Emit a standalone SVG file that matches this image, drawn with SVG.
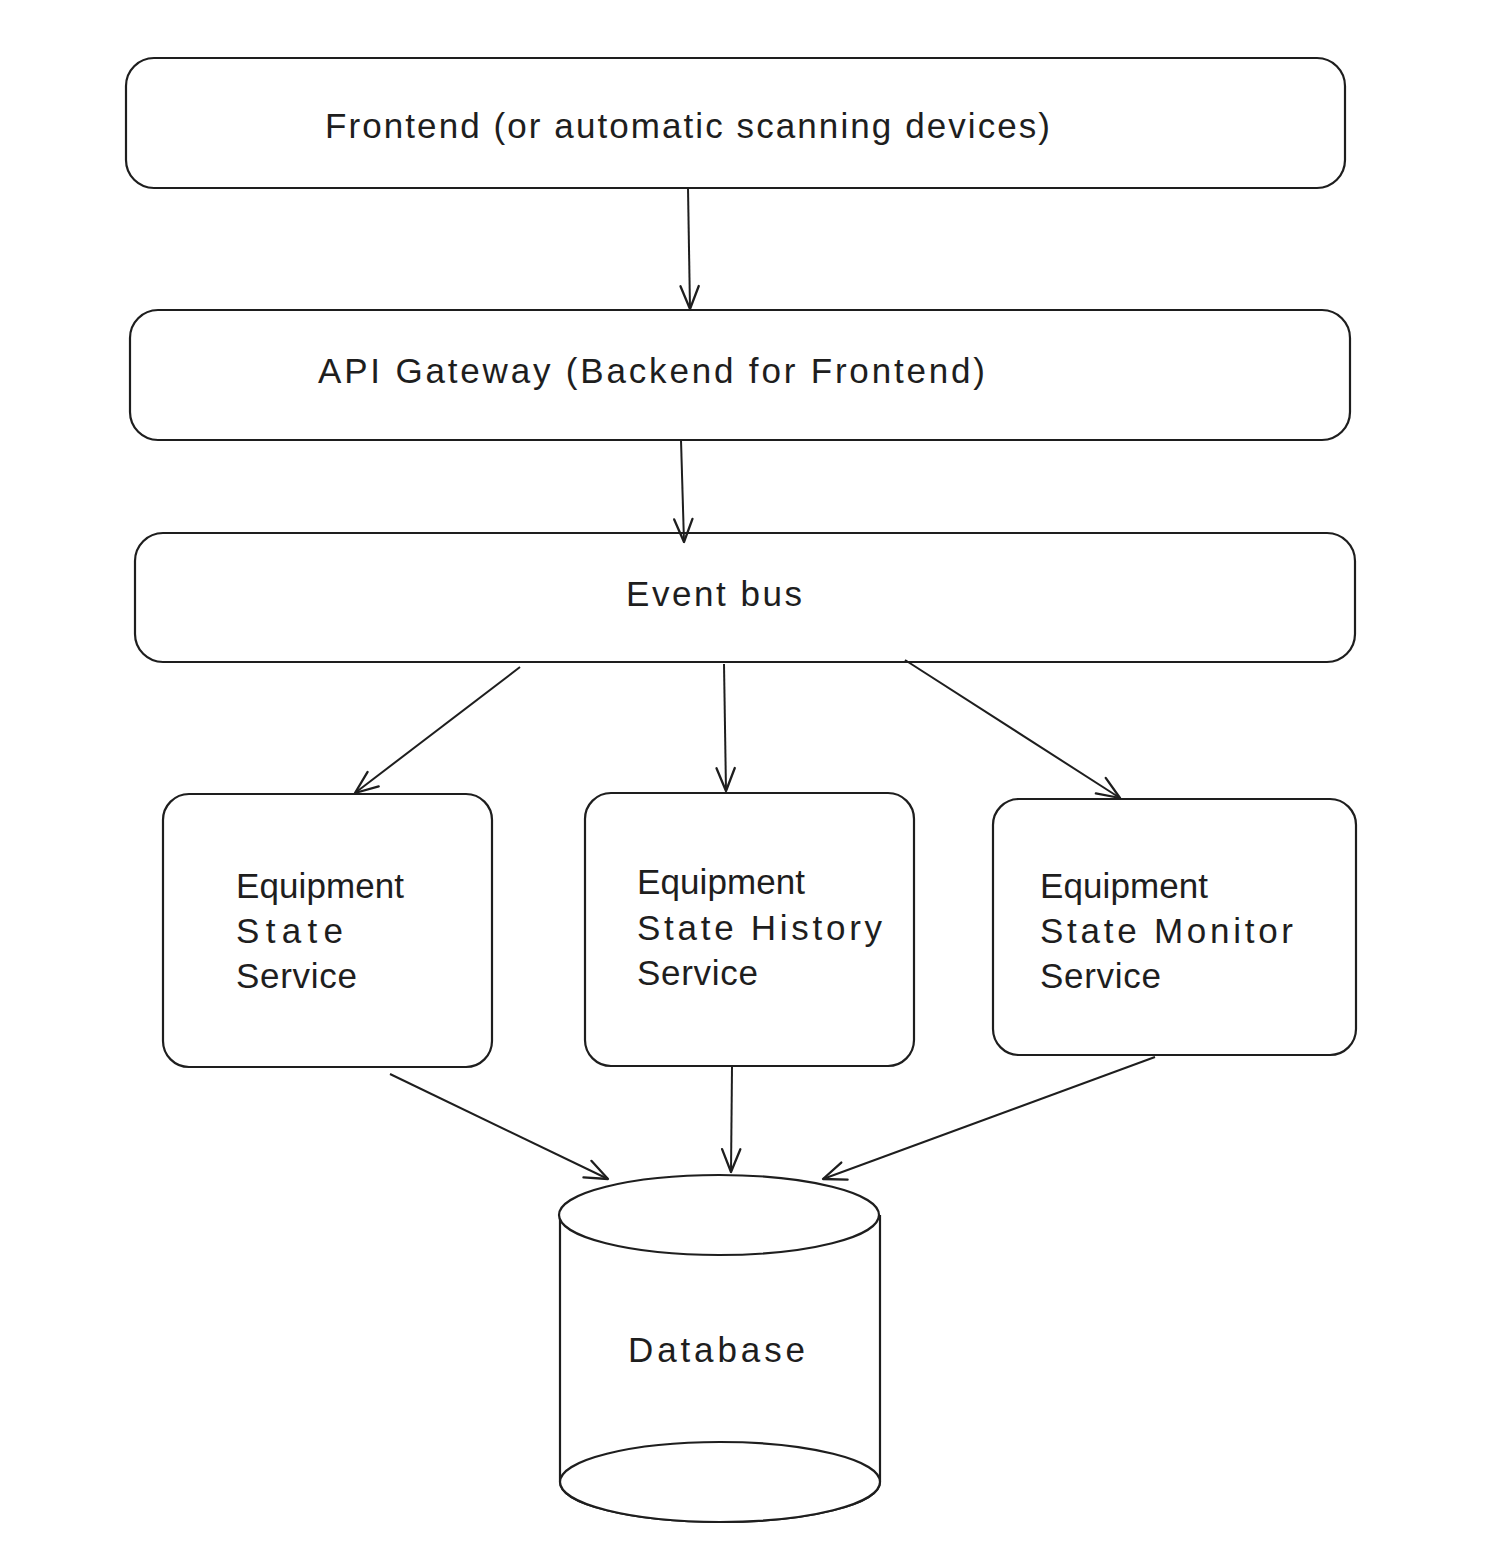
<svg xmlns="http://www.w3.org/2000/svg" width="1486" height="1565" viewBox="0 0 1486 1565">
<style>
.box{fill:#ffffff;stroke:#1e1e1e;stroke-width:2.2}
.lbl{font-family:"Liberation Sans",Arial,sans-serif;font-size:35px;fill:#1e1e1e}
.conn{fill:none;stroke:#1e1e1e;stroke-width:2;marker-end:url(#arr)}
</style>
<defs>
<marker id="arr" markerUnits="userSpaceOnUse" markerWidth="40" markerHeight="40" refX="0" refY="0" viewBox="-30 -15 35 30" orient="auto">
<path d="M-20 -8 L0 0 L-20 8" fill="none" stroke="#1e1e1e" stroke-width="2" stroke-linecap="round" stroke-linejoin="round"/>
</marker>
</defs>
<rect width="1486" height="1565" fill="#ffffff"/>
<g id="frontend">
<rect class="box" x="126" y="58" width="1219" height="130" rx="28"/>
<text class="lbl" x="325" y="138" textLength="725" lengthAdjust="spacing">Frontend (or automatic scanning devices)</text>
</g>
<g id="api-gateway">
<rect class="box" x="130" y="310" width="1220" height="130" rx="28"/>
<text class="lbl" x="318" y="383" textLength="667" lengthAdjust="spacing">API Gateway (Backend for Frontend)</text>
</g>
<g id="event-bus">
<rect class="box" x="135" y="533" width="1220" height="129" rx="28"/>
<text class="lbl" x="626" y="606" textLength="176" lengthAdjust="spacing">Event bus</text>
</g>
<g id="equipment-state-service">
<rect class="box" x="163" y="794" width="329" height="273" rx="26"/>
<text class="lbl" x="236" y="898" textLength="168" lengthAdjust="spacing">Equipment</text>
<text class="lbl" x="236" y="943" textLength="107" lengthAdjust="spacing">State</text>
<text class="lbl" x="236" y="988" textLength="121" lengthAdjust="spacing">Service</text>
</g>
<g id="equipment-state-history-service">
<rect class="box" x="585" y="793" width="329" height="273" rx="26"/>
<text class="lbl" x="637" y="894" textLength="168" lengthAdjust="spacing">Equipment</text>
<text class="lbl" x="637" y="940" textLength="245" lengthAdjust="spacing">State History</text>
<text class="lbl" x="637" y="985" textLength="121" lengthAdjust="spacing">Service</text>
</g>
<g id="equipment-state-monitor-service">
<rect class="box" x="993" y="799" width="363" height="256" rx="26"/>
<text class="lbl" x="1040" y="898" textLength="168" lengthAdjust="spacing">Equipment</text>
<text class="lbl" x="1040" y="943" textLength="253" lengthAdjust="spacing">State Monitor</text>
<text class="lbl" x="1040" y="988" textLength="121" lengthAdjust="spacing">Service</text>
</g>
<g id="database">
<path class="box" d="M560 1215 L560 1482 A160 40 0 0 0 880 1482 L880 1215"/>
<ellipse class="box" cx="720" cy="1482" rx="160" ry="40" fill="none"/>
<ellipse class="box" cx="719" cy="1215" rx="160" ry="40"/>
<text class="lbl" x="628" y="1362" textLength="177" lengthAdjust="spacing">Database</text>
</g>
<g id="connectors">
<path class="conn" d="M688 188 L690 309"/>
<path class="conn" d="M681 440 L684 542"/>
<path class="conn" d="M520 667 L355 793"/>
<path class="conn" d="M724 664 L726 791"/>
<path class="conn" d="M905 660 L1120 798"/>
<path class="conn" d="M390 1074 L608 1179"/>
<path class="conn" d="M732 1067 L731 1172"/>
<path class="conn" d="M1155 1057 L823 1179"/>
</g>
</svg>
